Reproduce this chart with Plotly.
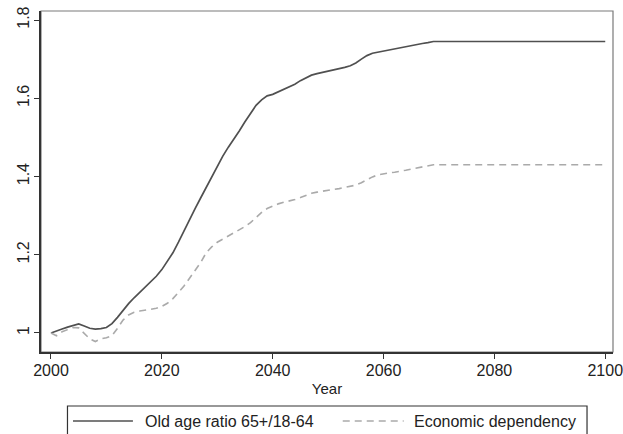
import plotly.graph_objects as go

# Projected ratios, index 2000 = 1
years = list(range(2000, 2070)) + [2100]

old_age_ratio = [
    1.000, 1.006, 1.010, 1.015, 1.020, 1.023, 1.018, 1.012, 1.010, 1.011,
    1.014, 1.024, 1.040, 1.058, 1.075, 1.090, 1.104, 1.116, 1.130, 1.145,
    1.162, 1.183, 1.205, 1.232, 1.262, 1.290, 1.318, 1.345, 1.372, 1.400,
    1.428, 1.452, 1.475, 1.495, 1.517, 1.540, 1.562, 1.582, 1.596, 1.606,
    1.610, 1.616, 1.622, 1.629, 1.636, 1.645, 1.653, 1.659, 1.663, 1.666,
    1.669, 1.672, 1.675, 1.679, 1.683, 1.690, 1.700, 1.709, 1.715, 1.718,
    1.720, 1.723, 1.726, 1.729, 1.731, 1.734, 1.737, 1.740, 1.742, 1.745,
    1.745,
]

economic_dependency = [
    1.000, 0.993, 1.003, 1.008, 1.014, 1.013, 0.998, 0.985, 0.978, 0.985,
    0.988, 0.993, 1.012, 1.033, 1.046, 1.053, 1.056, 1.058, 1.060, 1.063,
    1.068, 1.076, 1.088, 1.103, 1.120, 1.140, 1.160, 1.180, 1.205, 1.220,
    1.232, 1.240, 1.248, 1.255, 1.262, 1.272, 1.282, 1.295, 1.308, 1.318,
    1.325, 1.330, 1.334, 1.337, 1.341, 1.346, 1.352, 1.357, 1.360, 1.363,
    1.365, 1.367, 1.369, 1.372, 1.375, 1.378, 1.384, 1.392, 1.399, 1.404,
    1.407, 1.409, 1.411, 1.413, 1.416, 1.419, 1.422, 1.425, 1.428, 1.430,
    1.430,
]

series_names = ["Old age ratio 65+/18-64", "Economic dependency"]
x_ticks = [2000, 2020, 2040, 2060, 2080, 2100]
y_ticks = [1.0, 1.2, 1.4, 1.6, 1.8]
y_tick_text = ["1", "1.2", "1.4", "1.6", "1.8"]

W, H = 623, 434
L, R, T, B = 41, 9.5, 11, 82
FONT = "Liberation Sans, Arial, sans-serif"
SOLID_COLOR = "#505050"
DASH_COLOR = "#aaaaaa"
DASH = "7px,5px"


def px_x(px):
    return (px - L) / (W - L - R)


def px_y(py):
    return (H - B - py) / (H - B - T)


fig = go.Figure()
fig.add_trace(go.Scatter(
    x=years, y=old_age_ratio, mode="lines", name=series_names[0],
    line=dict(color=SOLID_COLOR, width=1.7), showlegend=False,
))
fig.add_trace(go.Scatter(
    x=years, y=economic_dependency, mode="lines", name=series_names[1],
    line=dict(color=DASH_COLOR, width=1.6, dash=DASH), showlegend=False,
))

shapes = [
    # plot frame (top and right edges)
    dict(type="rect", xref="paper", yref="paper", x0=0, x1=1, y0=0, y1=1,
         line=dict(color="#7a7a7a", width=1.2), layer="below"),
    # legend box
    dict(type="rect", xref="paper", yref="paper",
         x0=px_x(67.5), x1=px_x(587.5), y0=px_y(445), y1=px_y(406),
         line=dict(color="#333333", width=1.2)),
    # legend samples
    dict(type="line", xref="paper", yref="paper",
         x0=px_x(73), x1=px_x(133), y0=px_y(421), y1=px_y(421),
         line=dict(color=SOLID_COLOR, width=1.6)),
    dict(type="line", xref="paper", yref="paper",
         x0=px_x(343), x1=px_x(404), y0=px_y(421), y1=px_y(421),
         line=dict(color=DASH_COLOR, width=1.6, dash=DASH)),
]

annotations = [
    dict(text=series_names[0], xref="paper", yref="paper",
         x=px_x(143), y=px_y(421), xanchor="left", yanchor="middle",
         showarrow=False, font=dict(family=FONT, size=16, color="#222222")),
    dict(text=series_names[1], xref="paper", yref="paper",
         x=px_x(412), y=px_y(421), xanchor="left", yanchor="middle",
         showarrow=False, font=dict(family=FONT, size=16, color="#222222")),
]

fig.update_layout(
    width=W, height=H,
    margin=dict(l=L, r=R, t=T, b=B, pad=0, autoexpand=False),
    paper_bgcolor="white", plot_bgcolor="white",
    font=dict(family=FONT, size=16, color="#222222"),
    shapes=shapes, annotations=annotations,
    showlegend=False,
)

fig.update_xaxes(
    range=[1998.2, 2101.4], tickvals=x_ticks, ticks="outside", ticklen=5,
    tickwidth=1.2, tickcolor="#333333", showgrid=False, zeroline=False,
    showline=True, linecolor="#333333", linewidth=1.5, automargin=False,
    ticklabeloverflow="allow", ticklabelstandoff=-2,
    title=dict(text="Year", font=dict(size=15), standoff=6),
    tickfont=dict(size=16),
)
fig.update_yaxes(
    range=[0.9514, 1.823], tickvals=y_ticks, ticktext=y_tick_text,
    ticks="outside", ticklen=5, tickwidth=1.2, tickcolor="#333333",
    tickangle=-90, showgrid=False, zeroline=False, automargin=False,
    ticklabeloverflow="allow", ticklabelstandoff=-1,
    showline=True, linecolor="#333333", linewidth=1.5,
    tickfont=dict(size=16),
)

fig.write_html("out.html")
